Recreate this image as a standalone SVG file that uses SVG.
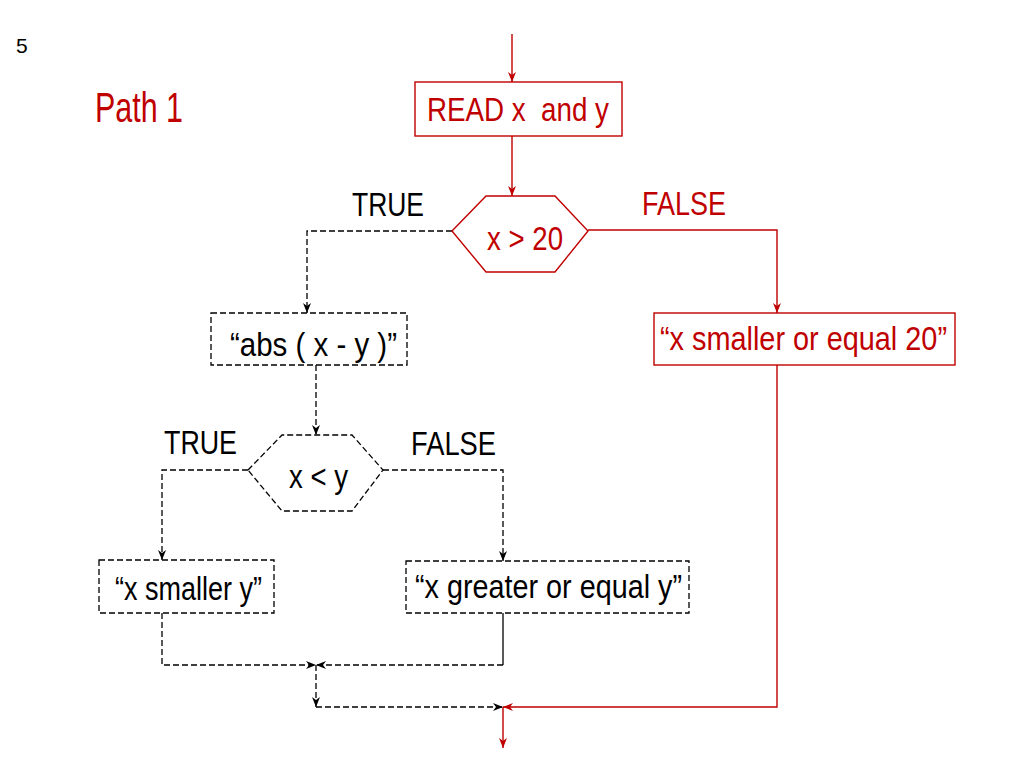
<svg xmlns="http://www.w3.org/2000/svg" width="1024" height="768" viewBox="0 0 1024 768">
<style>
.t{font-family:"Liberation Sans Narrow","Liberation Sans",Arial,sans-serif;font-size:34px;white-space:pre}
.red{fill:#c00000}
.blk{fill:#000}
.rs{fill:#fff;stroke:#c00000;stroke-width:1.4}
.bs{fill:#fff;stroke:#000;stroke-width:1.3;stroke-dasharray:6 3}
.rl{fill:none;stroke:#c00000;stroke-width:1.4}
.bl{fill:none;stroke:#000;stroke-width:1.3;stroke-dasharray:6 3}
.bsl{fill:none;stroke:#000;stroke-width:1.3}
</style>
<defs>
<marker id="ar" viewBox="-11 -5 12 10" refX="0" refY="0" markerWidth="12" markerHeight="10" markerUnits="userSpaceOnUse" orient="auto">
<path d="M-10,-4 L0,0 L-10,4 L-7,0 z" fill="#c00000"/>
</marker>
<marker id="ab" viewBox="-11 -5 12 10" refX="0" refY="0" markerWidth="12" markerHeight="10" markerUnits="userSpaceOnUse" orient="auto">
<path d="M-10,-4 L0,0 L-10,4 L-7,0 z" fill="#000"/>
</marker>
</defs>
<rect width="1024" height="768" fill="#fff"/>
<text x="16" y="53" style="font-family:'Liberation Sans',Arial,sans-serif;font-size:21px" class="blk">5</text>
<text x="95" y="122" class="t red" style="font-size:42px" textLength="88" lengthAdjust="spacingAndGlyphs">Path 1</text>

<g id="connectors">
<path class="rl" d="M512,34 V82" marker-end="url(#ar)"/>
<path class="rl" d="M512,136 V196" marker-end="url(#ar)"/>
<path class="rl" d="M588,230 H777 V313" marker-end="url(#ar)"/>
<path class="rl" d="M777,365 V707 H503" marker-end="url(#ar)"/>
<path class="rl" d="M503,707 V748" marker-end="url(#ar)"/>
<path class="bl" d="M452,231 H307 V313" marker-end="url(#ab)"/>
<path class="bl" d="M316,365 V435" marker-end="url(#ab)"/>
<path class="bl" d="M248,470 H162 V560" marker-end="url(#ab)"/>
<path class="bl" d="M383,470 H503 V561" marker-end="url(#ab)"/>
<path class="bl" d="M162,613 V665 H316" marker-end="url(#ab)"/>
<path class="bsl" d="M503,613 V665"/>
<path class="bl" d="M503,665 H316" marker-end="url(#ab)"/>
<path class="bl" d="M316,665 V707" marker-end="url(#ab)"/>
<path class="bl" d="M316,707 H503" marker-end="url(#ab)"/>
</g>

<g id="read">
<rect class="rs" x="415" y="82" width="207" height="54"/>
<text class="t red" x="427" y="121" textLength="182" lengthAdjust="spacingAndGlyphs" xml:space="preserve">READ x  and y</text>
</g>
<g id="dec1">
<polygon class="rs" points="452,231 486,196 555,196 588,231 555,272 486,272"/>
<text class="t red" x="487" y="250" textLength="76" lengthAdjust="spacingAndGlyphs">x &gt; 20</text>
</g>
<g id="lbl-true1"><text class="t blk" x="352" y="216" textLength="72" lengthAdjust="spacingAndGlyphs">TRUE</text></g>
<g id="lbl-false1"><text class="t red" x="642" y="215" textLength="84" lengthAdjust="spacingAndGlyphs">FALSE</text></g>
<g id="small20">
<rect class="rs" x="654" y="313" width="301" height="52"/>
<text class="t red" x="660" y="350" textLength="287" lengthAdjust="spacingAndGlyphs">“x smaller or equal 20”</text>
</g>
<g id="abs">
<rect class="bs" x="211" y="313" width="196" height="52"/>
<text class="t blk" x="230" y="356" textLength="167" lengthAdjust="spacingAndGlyphs">“abs ( x - y )”</text>
</g>
<g id="dec2">
<polygon class="bs" points="248,470 282,435 352,435 383,470 352,511 282,511"/>
<text class="t blk" x="289" y="488" textLength="59" lengthAdjust="spacingAndGlyphs">x &lt; y</text>
</g>
<g id="lbl-true2"><text class="t blk" x="164" y="454" textLength="73" lengthAdjust="spacingAndGlyphs">TRUE</text></g>
<g id="lbl-false2"><text class="t blk" x="411" y="455" textLength="85" lengthAdjust="spacingAndGlyphs">FALSE</text></g>
<g id="smally">
<rect class="bs" x="99" y="560" width="175" height="53"/>
<text class="t blk" x="115" y="600" textLength="147" lengthAdjust="spacingAndGlyphs">“x smaller y”</text>
</g>
<g id="greatery">
<rect class="bs" x="406" y="561" width="283" height="52"/>
<text class="t blk" x="415" y="598" textLength="267" lengthAdjust="spacingAndGlyphs">“x greater or equal y”</text>
</g>
</svg>
